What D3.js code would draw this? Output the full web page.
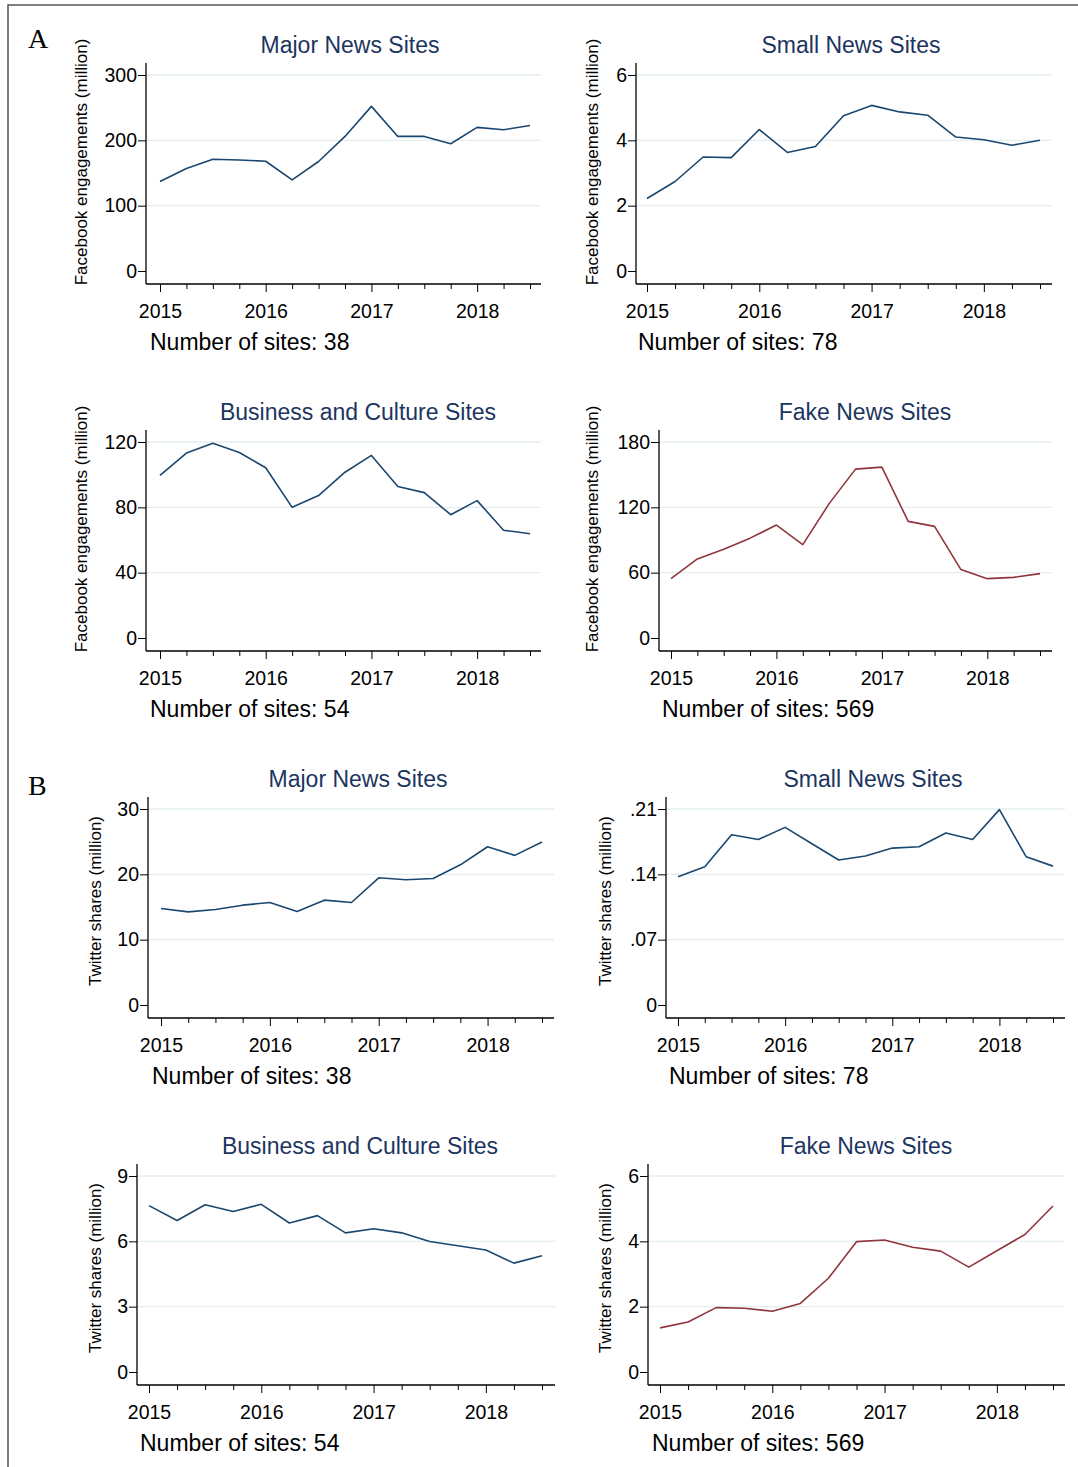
<!DOCTYPE html>
<meta charset="utf-8">
<html lang="en">
<head>
<script src="https://d3js.org/d3.v7.min.js"></script>
<style>
  body { margin: 0; background: #fff; }
  text { font-family: "Liberation Sans", Arial, sans-serif; }
</style>
</head>
<body>
<div id="chart"></div>
<script>
// quarters on the x axis
const quarters = [2015, 2015.25, 2015.5, 2015.75, 2016, 2016.25, 2016.5, 2016.75,
                  2017, 2017.25, 2017.5, 2017.75, 2018, 2018.25, 2018.5];
const yearTicks = [2015, 2016, 2017, 2018];

// panel A: facebook engagements (million)
const fbMajor    = [137, 157, 171, 170, 168, 139.5, 167.6, 206, 252, 206, 206, 194.7, 219.8, 216.2, 222.8];
const fbSmall    = [2.22, 2.74, 3.49, 3.47, 4.33, 3.63, 3.81, 4.75, 5.07, 4.87, 4.77, 4.10, 4.02, 3.85, 4.0];
const fbBusiness = [99.5, 113.2, 119.2, 113.6, 104.2, 80, 87.2, 101.5, 111.8, 92.7, 89, 75.5, 84.1, 66, 63.8];
const fbFake     = [54.5, 72.6, 81.5, 91.7, 103.7, 85.8, 123.4, 155.1, 156.9, 107.1, 102.5, 62.8, 54.5, 55.7, 59.1];

// panel B: twitter shares (million)
const twMajor    = [14.77, 14.26, 14.62, 15.28, 15.69, 14.31, 16.05, 15.69, 19.47, 19.17, 19.37, 21.46, 24.22, 22.9, 24.94];
const twSmall    = [0.1374, 0.1481, 0.1825, 0.1774, 0.1903, 0.1728, 0.1553, 0.1596, 0.1681, 0.1696, 0.1842, 0.1774, 0.2093, 0.1588, 0.1488];
const twBusiness = [7.64, 6.96, 7.68, 7.37, 7.70, 6.84, 7.18, 6.39, 6.58, 6.39, 5.99, 5.80, 5.60, 5.00, 5.34];
const twFake     = [1.35, 1.53, 1.97, 1.95, 1.86, 2.10, 2.87, 3.99, 4.04, 3.82, 3.70, 3.21, 3.71, 4.21, 5.08];

const fbTicksMajor = [0, 100, 200, 300];
const fbTicksSmall = [0, 2, 4, 6];
const fbTicksBus   = [0, 40, 80, 120];
const fbTicksFake  = [0, 60, 120, 180];
const twTicksMajor = [0, 10, 20, 30];
const twTicksSmall = [0, 0.07, 0.14, 0.21];
const twTicksBus   = [0, 3, 6, 9];
const twTicksFake  = [0, 2, 4, 6];

const titles = ["Major News Sites", "Small News Sites", "Business and Culture Sites", "Fake News Sites"];
const siteCounts = [38, 78, 54, 569];
const fbLabel = "Facebook engagements (million)";
const twLabel = "Twitter shares (million)";

const navy = "#1a476f", maroon = "#90353b", titleCol = "#1c3560", grid = "#e4eef0";

// layout of each panel (pixels)
const panels = [
  {data: fbMajor, ticks: fbTicksMajor, fmt: d => d, label: fbLabel, t: 0, color: navy,
   ax: 146, x15: 160, x185: 530, xEnd: 541, top: 75, zero: 271, tx: 350, lx: 81, lyOff: 87, nx: 150},
  {data: fbSmall, ticks: fbTicksSmall, fmt: d => d, label: fbLabel, t: 1, color: navy,
   ax: 636, x15: 647, x185: 1040, xEnd: 1052, top: 75, zero: 271, tx: 851, lx: 592, lyOff: 87, nx: 638},
  {data: fbBusiness, ticks: fbTicksBus, fmt: d => d, label: fbLabel, t: 2, color: navy,
   ax: 146, x15: 160, x185: 530, xEnd: 541, top: 442, zero: 638, tx: 358, lx: 81, lyOff: 87, nx: 150},
  {data: fbFake, ticks: fbTicksFake, fmt: d => d, label: fbLabel, t: 3, color: maroon,
   ax: 659, x15: 671, x185: 1040, xEnd: 1052, top: 442, zero: 638, tx: 865, lx: 592, lyOff: 87, nx: 662},
  {data: twMajor, ticks: twTicksMajor, fmt: d => d, label: twLabel, t: 0, color: navy,
   ax: 148, x15: 161, x185: 542, xEnd: 554, top: 809, zero: 1005, tx: 358, lx: 95, lyOff: 92, nx: 152},
  {data: twSmall, ticks: twTicksSmall, fmt: d => d === 0 ? "0" : String(d).replace(/^0/, ""), label: twLabel, t: 1, color: navy,
   ax: 666, x15: 678, x185: 1053, xEnd: 1065, top: 809, zero: 1005, tx: 873, lx: 605, lyOff: 92, nx: 669},
  {data: twBusiness, ticks: twTicksBus, fmt: d => d, label: twLabel, t: 2, color: navy,
   ax: 137, x15: 149, x185: 542, xEnd: 555, top: 1176, zero: 1372, tx: 360, lx: 95, lyOff: 92, nx: 140},
  {data: twFake, ticks: twTicksFake, fmt: d => d, label: twLabel, t: 3, color: maroon,
   ax: 648, x15: 660, x185: 1053, xEnd: 1065, top: 1176, zero: 1372, tx: 866, lx: 605, lyOff: 92, nx: 652}
];

const svg = d3.select("#chart").append("svg")
  .attr("width", 1078).attr("height", 1467);

// frame
svg.append("path").attr("d", "M8,1467V5H1078")
  .attr("fill", "none").attr("stroke", "#555").attr("stroke-width", 1.5);

svg.append("text").attr("x", 28).attr("y", 48).text("A")
  .style("font-family", "'Liberation Serif', 'Times New Roman', serif").style("font-size", "28px");
svg.append("text").attr("x", 28).attr("y", 795).text("B")
  .style("font-family", "'Liberation Serif', 'Times New Roman', serif").style("font-size", "28px");

panels.forEach(p => {
  const g = svg.append("g");
  const x = d3.scaleLinear().domain([2015, 2018.5]).range([p.x15, p.x185]);
  const yMax = p.ticks[p.ticks.length - 1];
  const y = d3.scaleLinear().domain([0, yMax]).range([p.zero, p.top]);
  const axisY = p.zero + 13;

  // grid lines
  g.selectAll(".grid").data(p.ticks.filter(d => d !== 0)).join("line")
    .attr("x1", p.ax).attr("x2", p.xEnd)
    .attr("y1", d => y(d)).attr("y2", d => y(d))
    .attr("stroke", grid).attr("stroke-width", 1.3);

  // y axis
  const yAxis = g.append("g").attr("transform", `translate(${p.ax},0)`)
    .call(d3.axisLeft(y).tickValues(p.ticks).tickFormat(p.fmt).tickSize(8).tickPadding(1));
  yAxis.select(".domain").attr("d", `M0,${p.top - 12}V${axisY}`).attr("stroke-width", 1.3);
  yAxis.selectAll("text").style("font-size", "19.5px").attr("fill", "#000");

  // x axis, minor quarter ticks then years
  const xAxis = g.append("g").attr("transform", `translate(0,${axisY})`);
  xAxis.call(d3.axisBottom(x).tickValues(quarters.filter(q => !yearTicks.includes(q)))
    .tickFormat("").tickSize(5));
  xAxis.select(".domain").remove();
  const xMajor = g.append("g").attr("transform", `translate(0,${axisY})`)
    .call(d3.axisBottom(x).tickValues(yearTicks).tickFormat(d3.format("d")).tickSize(8).tickPadding(12));
  xMajor.select(".domain").attr("d", `M${p.ax},0H${p.xEnd}`).attr("stroke-width", 1.3);
  xMajor.selectAll("text").style("font-size", "19.5px").attr("fill", "#000");

  // series
  g.append("path").datum(p.data)
    .attr("fill", "none").attr("stroke", p.color).attr("stroke-width", 1.6)
    .attr("stroke-linejoin", "round")
    .attr("d", d3.line().x((d, i) => x(quarters[i])).y(d => y(d)));

  // title
  g.append("text").attr("x", p.tx).attr("y", p.top - 22).attr("text-anchor", "middle")
    .attr("fill", titleCol).style("font-size", "23px").text(titles[p.t]);

  // y label
  g.append("text").attr("transform", `translate(${p.lx},${p.top + p.lyOff}) rotate(-90)`)
    .attr("text-anchor", "middle").attr("dy", "0.35em").style("font-size", "17px").text(p.label);

  // number of sites
  g.append("text").attr("x", p.nx).attr("y", axisY + 66)
    .style("font-size", "23px").text("Number of sites: " + siteCounts[p.t]);
});
</script>
</body>
</html>
